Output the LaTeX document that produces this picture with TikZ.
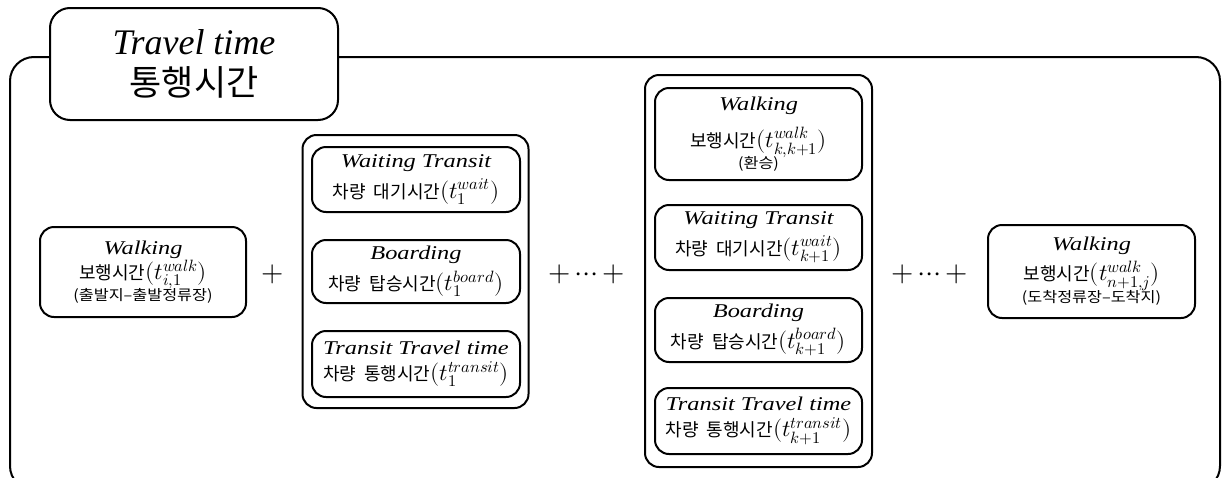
\documentclass[tikz,border=0pt]{standalone}
\usepackage{fontspec}
\usepackage{unicode-math}
\setmainfont{Liberation Serif}
\setmathfont{Latin Modern Math}[Scale=1.3]
\newfontfamily\kofont{Noto Sans CJK KR}
\newfontfamily\kosfont[FakeStretch=1.12]{Noto Sans CJK KR}
\newfontfamily\enfont[FakeStretch=1.25]{Liberation Serif}
\newcommand{\EN}[1]{{\enfont\itshape\fontsize{19.5}{20}\selectfont #1}}
\newcommand{\KO}[1]{{\kofont\fontsize{18}{20}\selectfont #1}}
\newcommand{\KS}[1]{{\kosfont\fontsize{14.5}{20}\selectfont #1}}
\newcommand{\ksp}{\hspace{0.45em}}
\begin{document}
\begin{tikzpicture}[x=1pt,y=-1pt,
  frame/.style={draw, line width=2pt, rounded corners=24pt},
  grp/.style={draw, line width=2pt, rounded corners=14pt, inner sep=0pt},
  box/.style={draw, line width=2pt, rounded corners=14pt, inner sep=0pt, align=center, fill=white,
    font=\fontsize{18}{20}\selectfont},
  op/.style={inner sep=0pt, font=\fontsize{22}{22}\selectfont}]
\useasboundingbox (0,0) rectangle (1223,477);
% outer frame
\draw[frame] (10,57) rectangle (1220,490);
% title
\node[box, rounded corners=20pt, minimum width=288pt, minimum height=112pt,
  font=\fontsize{36}{36}\selectfont] (title) at (194,64)
  {{\itshape Travel time}\\[5pt]{\kofont\fontsize{35}{36}\selectfont 통행시간}};
% first walking
\node[box, minimum width=206pt, minimum height=90pt] (w1) at (143,272)
  {\EN{Walking}\\[0pt]\KO{보행시간$(t_{i,1}^{walk})$}\\[-2pt]\KS{(출발지–출발정류장)}};
\node[op] (p1) at (273,274) {$+$};
% group 1
\node[grp, minimum width=226pt, minimum height=273pt] (g1) at (415.5,271.5) {};
\node[box, minimum width=208pt, minimum height=65pt] (g1a) at (416,179.5)
  {\EN{Waiting Transit}\\[6pt]\KO{차량\ksp 대기시간$(t_{1}^{wait})$}};
\node[box, minimum width=208pt, minimum height=63pt] (g1b) at (416,271.5)
  {\EN{Boarding}\\[6pt]\KO{차량\ksp 탑승시간$(t_{1}^{board})$}};
\node[box, minimum width=208pt, minimum height=66pt] (g1c) at (416,364)
  {\EN{Transit Travel time}\\[6pt]\KO{차량\ksp 통행시간$(t_{1}^{transit})$}};
\node[op] (p2) at (587,274) {${+}\,{\cdots}\,{+}$};
% group 2
\node[grp, minimum width=227pt, minimum height=392pt] (g2) at (758.5,271) {};
\node[box, minimum width=207pt, minimum height=92pt] (g2a) at (758.5,134)
  {\EN{Walking}\\[12pt]\KO{보행시간$(t_{k,k+1}^{walk})$}\\[-2pt]\KS{(환승)}};
\node[box, minimum width=207pt, minimum height=65pt] (g2b) at (758.5,237.5)
  {\EN{Waiting Transit}\\[6pt]\KO{차량\ksp 대기시간$(t_{k+1}^{wait})$}};
\node[box, minimum width=207pt, minimum height=64pt] (g2c) at (758.5,330)
  {\EN{Boarding}\\[6pt]\KO{차량\ksp 탑승시간$(t_{k+1}^{board})$}};
\node[box, minimum width=207pt, minimum height=66pt] (g2d) at (758.5,421)
  {\EN{Transit Travel time}\\[6pt]\KO{차량\ksp 통행시간$(t_{k+1}^{transit})$}};
\node[op] (p3) at (930,274) {${+}\,{\cdots}\,{+}$};
% last walking
\node[box, minimum width=207pt, minimum height=93pt] (w2) at (1091.5,271.5)
  {\EN{Walking}\\[5pt]\KO{보행시간$(t_{n+1,j}^{walk})$}\\[-1pt]\KS{(도착정류장–도착지)}};
\end{tikzpicture}
\end{document}
